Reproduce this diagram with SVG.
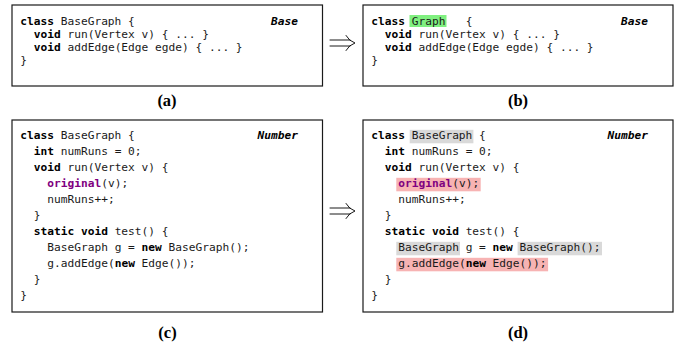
<svg xmlns="http://www.w3.org/2000/svg" width="681" height="348" viewBox="0 0 681 348">
<style>
.box{fill:#fff;stroke:#1a1a1a;stroke-width:1.2}
.code{font-family:"DejaVu Sans Mono","Liberation Mono",monospace;font-size:11.2px;fill:#1a1a1a}
.kw{font-weight:bold;fill:#000}
.orig{font-weight:bold;fill:#800080}
.tag{font-family:"DejaVu Sans Mono","Liberation Mono",monospace;font-size:11.2px;font-weight:bold;font-style:italic;fill:#000;text-anchor:end}
.cap{font-family:"Liberation Serif","Times New Roman",serif;font-size:16.5px;font-weight:bold;fill:#000;text-anchor:middle}
.hg{fill:#80f080}
.hy{fill:#d9d9d9}
.hp{fill:#f7b3b3}
.arr{fill:none;stroke:#000;stroke-width:0.9;stroke-linecap:round}
</style>
<rect width="681" height="348" fill="#fff"/>

<g id="nodeA">
<rect class="box" x="12" y="5" width="310.5" height="81"/>
<text class="code" x="20.3" y="25"><tspan class="kw">class</tspan> BaseGraph {</text>
<text class="code" x="33.8" y="38"><tspan class="kw">void</tspan> run(Vertex v) { ... }</text>
<text class="code" x="33.8" y="51"><tspan class="kw">void</tspan> addEdge(Edge egde) { ... }</text>
<text class="code" x="20.3" y="64">}</text>
<text class="tag" x="298" y="25">Base</text>
<text class="cap" x="167" y="106">(a)</text>
</g>

<g id="nodeB">
<rect class="box" x="363" y="5" width="310" height="81"/>
<rect class="hg" x="409.5" y="15" width="37" height="12"/>
<text class="code" x="371.3" y="25"><tspan class="kw">class</tspan></text>
<text class="code" x="411.7" y="25">Graph</text>
<text class="code" x="465.7" y="25">{</text>
<text class="code" x="384.8" y="38"><tspan class="kw">void</tspan> run(Vertex v) { ... }</text>
<text class="code" x="384.8" y="51"><tspan class="kw">void</tspan> addEdge(Edge egde) { ... }</text>
<text class="code" x="371.3" y="64">}</text>
<text class="tag" x="648" y="25">Base</text>
<text class="cap" x="518" y="106">(b)</text>
</g>

<g id="nodeC">
<rect class="box" x="12" y="120" width="310.5" height="192"/>
<text class="code" x="20.3" y="139.3"><tspan class="kw">class</tspan> BaseGraph {</text>
<text class="code" x="33.8" y="155.3"><tspan class="kw">int</tspan> numRuns = 0;</text>
<text class="code" x="33.8" y="171.3"><tspan class="kw">void</tspan> run(Vertex v) {</text>
<text class="code" x="47.3" y="187.3"><tspan class="orig">original</tspan>(v);</text>
<text class="code" x="47.3" y="203.3">numRuns++;</text>
<text class="code" x="33.8" y="219.3">}</text>
<text class="code" x="33.8" y="235.3"><tspan class="kw">static void</tspan> test() {</text>
<text class="code" x="47.3" y="251.3">BaseGraph g = <tspan class="kw">new</tspan> BaseGraph();</text>
<text class="code" x="47.3" y="267.3">g.addEdge(<tspan class="kw">new</tspan> Edge());</text>
<text class="code" x="33.8" y="283.3">}</text>
<text class="code" x="20.3" y="299.3">}</text>
<text class="tag" x="298" y="139.3">Number</text>
<text class="cap" x="167.5" y="338">(c)</text>
</g>

<g id="nodeD">
<rect class="box" x="363" y="120" width="310" height="192"/>
<rect class="hy" x="409.7" y="129.8" width="63.7" height="13.5"/>
<rect class="hp" x="396.3" y="177.8" width="84.4" height="13.5"/>
<rect class="hy" x="396.3" y="241.8" width="63.7" height="13.5"/>
<rect class="hy" x="517.6" y="241.8" width="84.4" height="13.5"/>
<rect class="hp" x="396.3" y="257.8" width="151.8" height="13.5"/>
<text class="code" x="371.3" y="139.3"><tspan class="kw">class</tspan> BaseGraph {</text>
<text class="code" x="384.8" y="155.3"><tspan class="kw">int</tspan> numRuns = 0;</text>
<text class="code" x="384.8" y="171.3"><tspan class="kw">void</tspan> run(Vertex v) {</text>
<text class="code" x="398.3" y="187.3"><tspan class="orig">original</tspan>(v);</text>
<text class="code" x="398.3" y="203.3">numRuns++;</text>
<text class="code" x="384.8" y="219.3">}</text>
<text class="code" x="384.8" y="235.3"><tspan class="kw">static void</tspan> test() {</text>
<text class="code" x="398.3" y="251.3">BaseGraph g = <tspan class="kw">new</tspan> BaseGraph();</text>
<text class="code" x="398.3" y="267.3">g.addEdge(<tspan class="kw">new</tspan> Edge());</text>
<text class="code" x="384.8" y="283.3">}</text>
<text class="code" x="371.3" y="299.3">}</text>
<text class="tag" x="648" y="139.3">Number</text>
<text class="cap" x="518" y="338">(d)</text>
</g>

<g id="connectors">
<path class="arr" d="M330,40 H350 M330,46 H350 M346,35.5 Q349,41 355,43 Q349,45 346,50.5"/>
<path class="arr" d="M330,208 H350 M330,214 H350 M346,203.5 Q349,209 355,211 Q349,213 346,218.5"/>
</g>
</svg>
